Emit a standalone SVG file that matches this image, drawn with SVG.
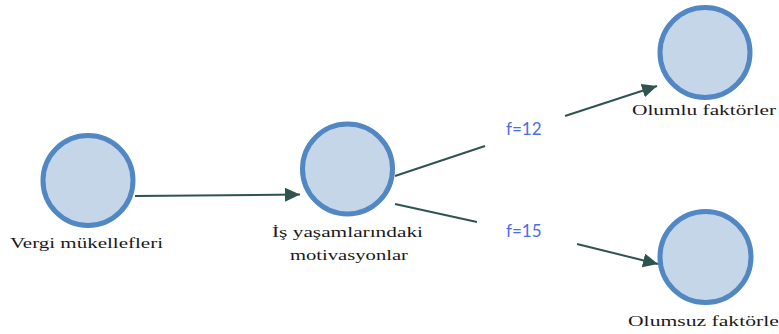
<svg xmlns="http://www.w3.org/2000/svg" width="779" height="334" viewBox="0 0 779 334">
<defs>
<style>
.node circle{fill:#c6d6e9;stroke:#5187c3;stroke-width:5}
.lbl{font-family:"Liberation Serif","Times New Roman",serif;font-size:15px;fill:#1a1a1a;text-anchor:start}
.edge{stroke:#2f5450;stroke-width:2;fill:none}
.f{font-family:Lato,"Liberation Sans",sans-serif;font-size:17px;fill:#4a6de6}
</style>
<marker id="ah" markerUnits="userSpaceOnUse" markerWidth="16" markerHeight="15" refX="15" refY="7" orient="auto">
<path d="M0,0 L15,7 L0,14 Z" fill="#2f5450"/>
</marker>
</defs>
<rect width="779" height="334" fill="#fff"/>
<g id="connectors">
<line class="edge" x1="135" y1="196" x2="300" y2="194.5" marker-end="url(#ah)"/>
<line class="edge" x1="395" y1="176" x2="485" y2="146"/>
<line class="edge" x1="565" y1="116" x2="657" y2="86" marker-end="url(#ah)"/>
<line class="edge" x1="395" y1="204" x2="477" y2="222"/>
<line class="edge" x1="577" y1="244" x2="658" y2="264" marker-end="url(#ah)"/>
<text class="f" x="506" y="135">f=12</text>
<text class="f" x="506" y="237">f=15</text>
</g>
<g id="vergi" class="node">
<circle cx="88" cy="180.5" r="45"/>
<text class="lbl" x="10" y="248" textLength="153" lengthAdjust="spacingAndGlyphs">Vergi mükellefleri</text>
</g>
<g id="is" class="node">
<circle cx="347.5" cy="169" r="45"/>
<text class="lbl" x="272" y="237" textLength="151" lengthAdjust="spacingAndGlyphs">İş yaşamlarındaki</text>
<text class="lbl" x="290" y="260" textLength="118" lengthAdjust="spacingAndGlyphs">motivasyonlar</text>
</g>
<g id="olumlu" class="node">
<circle cx="705" cy="52.5" r="45"/>
<text class="lbl" x="632" y="115" textLength="144" lengthAdjust="spacingAndGlyphs">Olumlu faktörler</text>
</g>
<g id="olumsuz" class="node">
<circle cx="705.5" cy="257" r="45.5"/>
<text class="lbl" x="628" y="326" textLength="158" lengthAdjust="spacingAndGlyphs">Olumsuz faktörler</text>
</g>
</svg>
